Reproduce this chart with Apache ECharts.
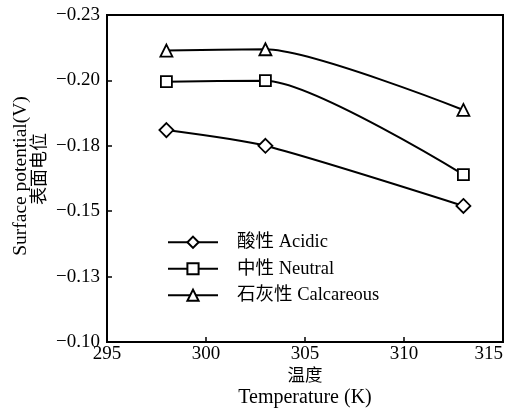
<!DOCTYPE html>
<html><head><meta charset="utf-8">
<script src="https://cdn.jsdelivr.net/npm/echarts@6/dist/echarts.min.js"></script>
<style>html,body{margin:0;padding:0;background:#fff}#c{width:514px;height:410px}</style>
</head><body><div id="c"></div>
<script>
const temperatures = [298, 303, 313];
const acidic = [-0.181, -0.175, -0.152];
const neutral = [-0.1995, -0.1999, -0.164];
const calcareous = [-0.2114, -0.2119, -0.1887];
const seriesNames = ['酸性 Acidic', '中性 Neutral', '石灰性 Calcareous'];
const yTickValues = [-0.225, -0.2, -0.175, -0.15, -0.125, -0.1];
const yTickLabels = ['−0.23', '−0.20', '−0.18', '−0.15', '−0.13', '−0.10'];
const xTickLabels = ['295', '300', '305', '310', '315'];

const FONT = '"Liberation Serif", "Noto Sans CJK SC", serif';
const chart = echarts.init(document.getElementById('c'), null, {renderer: 'canvas'});
function pair(xs, ys) { return xs.map((x, i) => [x, ys[i]]); }
function mkSeries(name, data, symbol, size) {
  return {
    name, type: 'line', data, symbol, symbolSize: size, smooth: 0.22,
    lineStyle: {color: '#000', width: 2},
    itemStyle: {color: '#fff', borderColor: '#000', borderWidth: 1.8},
    emphasis: {disabled: true}, animation: false
  };
}
chart.setOption({
  animation: false,
  grid: {left: 107, right: 11, top: 15, bottom: 68, containLabel: false, outerBoundsMode: 'none',
    show: true, borderColor: '#000', borderWidth: 2, backgroundColor: 'transparent'},
  xAxis: {
    type: 'value', min: 295, max: 315, interval: 5,
    axisLine: {show: true, lineStyle: {color: '#000', width: 2}},
    axisTick: {show: true, inside: true, length: 5, lineStyle: {color: '#000', width: 1.5}},
    splitLine: {show: false},
    axisLabel: {color: '#000', fontFamily: FONT, fontSize: 19, margin: 3, alignMaxLabel: 'right',
      formatter: v => xTickLabels[Math.round((v - 295) / 5)] || ''}
  },
  yAxis: {
    type: 'value', min: -0.225, max: -0.1, interval: 0.025, inverse: true,
    axisLine: {show: true, lineStyle: {color: '#000', width: 2}},
    axisTick: {show: true, inside: true, length: 5, lineStyle: {color: '#000', width: 1.5}},
    splitLine: {show: false},
    axisLabel: {color: '#000', fontFamily: FONT, fontSize: 19, margin: 7,
      formatter: v => {
        const i = yTickValues.findIndex(t => Math.abs(t - v) < 1e-6);
        return i >= 0 ? yTickLabels[i] : '';
      }}
  },
  legend: {
    orient: 'vertical', left: 162, top: 228, itemWidth: 50, itemHeight: 14, itemGap: 8,
    textStyle: {color: '#000', fontFamily: FONT, fontSize: 18.5, padding: [0, 0, 0, 14]},
    data: seriesNames, selectedMode: false
  },
  graphic: [
    {type: 'text', x: 21, y: 176, rotation: Math.PI / 2,
      style: {text: 'Surface potential(V)', fill: '#000', font: '19.5px ' + FONT, textAlign: 'center', textVerticalAlign: 'middle'}},
    {type: 'text', x: 40, y: 169, rotation: Math.PI / 2,
      style: {text: '表面电位', fill: '#000', font: '18px ' + FONT, textAlign: 'center', textVerticalAlign: 'middle'}},
    {type: 'text', x: 305, y: 376,
      style: {text: '温度', fill: '#000', font: '17.5px ' + FONT, textAlign: 'center', textVerticalAlign: 'middle'}},
    {type: 'text', x: 305, y: 398,
      style: {text: 'Temperature (K)', fill: '#000', font: '20px ' + FONT, textAlign: 'center', textVerticalAlign: 'middle'}}
  ],
  series: [
    mkSeries(seriesNames[0], pair(temperatures, acidic), 'diamond', 14),
    mkSeries(seriesNames[1], pair(temperatures, neutral), 'rect', 11),
    mkSeries(seriesNames[2], pair(temperatures, calcareous), 'triangle', 12)
  ]
});
</script></body></html>
